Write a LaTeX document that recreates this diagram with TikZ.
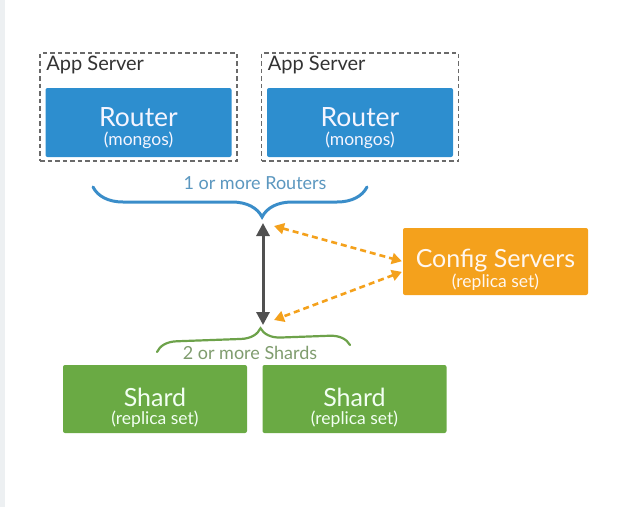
\documentclass[tikz,border=0pt]{standalone}
\usepackage{fontspec}
\setmainfont{Lato}
\usepackage{tikz}
\usetikzlibrary{arrows.meta,positioning,decorations.pathreplacing}
\definecolor{mRouter}{HTML}{2D8ECF}
\definecolor{mConfig}{HTML}{F4A11C}
\definecolor{mShard}{HTML}{6AAA44}
\definecolor{mRouterTxt}{HTML}{5B97BF}
\definecolor{mShardTxt}{HTML}{7F9C6E}
\definecolor{mBraceBlue}{HTML}{3A8DC9}
\definecolor{mBraceGreen}{HTML}{6DA24A}
\definecolor{mArrow}{HTML}{505050}
\definecolor{mFrame}{HTML}{6A6A6A}
\definecolor{mStrip}{HTML}{EDF0F2}
\newcommand\sublbl[1]{{\fontsize{17.5}{18}\selectfont #1}}

\begin{document}
\begin{tikzpicture}[x=1pt,y=-1pt,
    appbox/.style={draw=mFrame, line width=1.6pt, dash pattern=on 4.5pt off 3pt,
        minimum width=197pt, minimum height=108pt, inner sep=0pt},
    applbl/.style={text=black!80, font=\fontsize{20}{22}\selectfont, inner sep=0pt},
    tile/.style={rounded corners=2pt, inner sep=0pt, align=center,
        font=\fontsize{25}{18}\selectfont},
    routerbox/.style={tile, fill=mRouter, text=blue!4, minimum width=186pt,
        minimum height=69pt, text height=57pt, text depth=12pt,
        font=\fontsize{26.5}{19}\selectfont},
    configbox/.style={tile, fill=mConfig, text=orange!6, minimum width=185pt,
        minimum height=67pt, text height=59pt, text depth=8pt},
    shardbox/.style={tile, fill=mShard, text=green!5, minimum width=184pt,
        minimum height=68pt, text height=59pt, text depth=9pt},
    bracelbl/.style={font=\fontsize{18}{20}\selectfont, inner sep=0pt},
    dblarrow/.style={{Triangle[width=13pt,length=13pt]}-{Triangle[width=13pt,length=13pt]},
        line width=3pt, mArrow},
    cfgarrow/.style={{Triangle[width=11pt,length=10pt]}-{Triangle[width=11pt,length=10pt]},
        line width=2.6pt, mConfig, dash pattern=on 6pt off 4pt}]
    \useasboundingbox (0,0) rectangle (620,507);
    \fill[mStrip] (0,0) rectangle (5,507);

    % app servers with their routers
    \foreach \x/\n in {138.5/1, 360/2} {
        \node[appbox] (app\n) at (\x,107) {};
        \node[applbl, anchor=base west] (applbl\n) at ([xshift=7pt,yshift=-18pt]app\n.north west) {App Server};
        \node[routerbox] (router\n) at (\x,122.5) {Router\\\sublbl{(mongos)}};
    }

    \node[bracelbl, text=mRouterTxt] (routerlbl) at (255,183) {1 or more Routers};
    \draw[mBraceBlue, line width=3pt, line cap=round,
        decorate, decoration={brace, mirror, amplitude=30pt, aspect=0.617}]
        (93,187) -- (367,187);

    \node[configbox] (config) at (495.5,261.5) {Config Servers\\\sublbl{(replica set)}};

    % shards
    \foreach \x/\n in {155/1, 354.5/2}
        \node[shardbox] (shard\n) at (\x,399) {Shard\\\sublbl{(replica set)}};

    \node[bracelbl, text=mShardTxt] (shardlbl) at (250,353) {2 or more Shards};
    \draw[mBraceGreen, line width=2.2pt, line cap=round,
        decorate, decoration={brace, amplitude=20pt, aspect=0.54}]
        (157,352) -- (350,345);

    \coordinate (rtip) at (263,223);
    \coordinate (stip) at (263,325);
    \coordinate (ctop) at (274,226);
    \coordinate (cbot) at (274,320);
    \draw[dblarrow] (rtip) -- (stip);
    \draw[cfgarrow, shorten >=1pt] (ctop) -- (config.west);
    \draw[cfgarrow, shorten <=1pt] ([yshift=-10pt]config.west) -- (cbot);
\end{tikzpicture}
\end{document}
